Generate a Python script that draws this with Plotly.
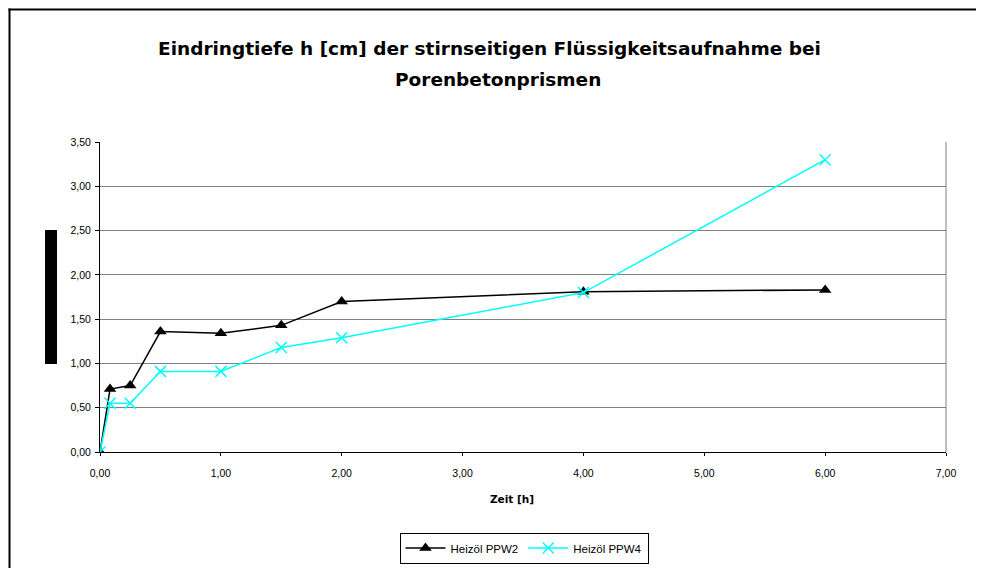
import plotly.graph_objects as go

time_h = [0, 0.083, 0.25, 0.5, 1, 1.5, 2, 4, 6]
ppw2 = [0, 0.71, 0.75, 1.36, 1.34, 1.43, 1.70, 1.81, 1.83]
ppw4 = [0, 0.55, 0.55, 0.91, 0.91, 1.18, 1.29, 1.80, 3.30]
series_names = ["Heizöl PPW2", "Heizöl PPW4"]
title_lines = ["Eindringtiefe h [cm] der stirnseitigen Flüssigkeitsaufnahme bei",
               "Porenbetonprismen"]
x_title = "Zeit [h]"

FONT = "Liberation Sans, Arial, sans-serif"
WIDE = "DejaVu Sans, Verdana, sans-serif"

fig = go.Figure()
fig.add_trace(go.Scatter(
    x=time_h, y=ppw2, name=series_names[0], mode="lines+markers",
    line=dict(color="black", width=1.5),
    marker=dict(symbol="triangle-up", size=11, color="black"),
))
fig.add_trace(go.Scatter(
    x=time_h, y=ppw4, name=series_names[1], mode="lines+markers",
    line=dict(color="#00FFFF", width=1.5),
    marker=dict(symbol="x-thin-open", size=11, color="#00FFFF",
                line=dict(color="#00FFFF", width=1.5)),
))

OFF = 8  # default page body margin
W, H = 984 - 2 * OFF, 576 - 2 * OFF
# plot area in window pixels
L, R, T, B = 100, 946, 142, 452

def px(x):
    return (x - L) / (R - L)

def py(y):
    return (B - y) / (B - T)

annotations = [
    dict(text="<b>" + title_lines[0] + "</b>", xref="paper", yref="paper",
         x=px(489), y=py(49), xanchor="center", yanchor="middle", showarrow=False,
         font=dict(family=WIDE, size=18.5, color="black")),
    dict(text="<b>" + title_lines[1] + "</b>", xref="paper", yref="paper",
         x=px(498), y=py(79), xanchor="center", yanchor="middle", showarrow=False,
         font=dict(family=WIDE, size=18.5, color="black")),
    dict(text="<b>" + x_title + "</b>", xref="paper", yref="paper",
         x=px(512), y=py(499), xanchor="center", yanchor="middle", showarrow=False,
         font=dict(family=WIDE, size=10.5, color="black")),
]

fig.update_layout(
    width=W, height=H,
    margin=dict(l=L - OFF, r=W - (R - OFF), t=T - OFF, b=H - (B - OFF), pad=0,
                autoexpand=False),
    paper_bgcolor="white", plot_bgcolor="white",
    separators=",.",
    font=dict(family=FONT, size=10, color="black"),
    xaxis=dict(range=[0, 7], dtick=1, tickformat=".2f", showgrid=False,
               showline=True, linecolor="black", linewidth=1, mirror=False,
               ticks="outside", ticklen=3, tickcolor="black", ticklabelstandoff=8,
               tickfont=dict(family=FONT, size=10.5), zeroline=False),
    yaxis=dict(range=[0, 3.5], dtick=0.5, tickformat=".2f", showgrid=True,
               gridcolor="#808080", gridwidth=1,
               showline=True, linecolor="black", linewidth=1,
               ticks="outside", ticklen=4, tickcolor="black", ticklabelstandoff=2,
               tickfont=dict(family=FONT, size=10.5), zeroline=False),
    showlegend=True,
    legend=dict(orientation="h", x=px(524), xanchor="center", y=py(548), yanchor="middle",
                bordercolor="black", borderwidth=1, bgcolor="white",
                font=dict(family=FONT, size=11.5), itemwidth=40),
    annotations=annotations,
    shapes=[
        # outer chart border: only left and top edges are visible in the window
        dict(type="line", xref="paper", yref="paper",
             x0=px(9.5), x1=px(9.5), y0=py(8.5), y1=py(700),
             line=dict(color="black", width=2), layer="below"),
        dict(type="line", xref="paper", yref="paper",
             x0=px(8.5), x1=px(1100), y0=py(9.5), y1=py(9.5),
             line=dict(color="black", width=2), layer="below"),
        dict(type="line", xref="paper", yref="paper", x0=1, x1=1, y0=0, y1=1,
             line=dict(color="#808080", width=1)),
        dict(type="rect", xref="paper", yref="paper",
             x0=px(45), x1=px(57), y0=py(364), y1=py(230),
             line=dict(width=0), fillcolor="black"),
    ],
)

fig.write_html("out.html")
